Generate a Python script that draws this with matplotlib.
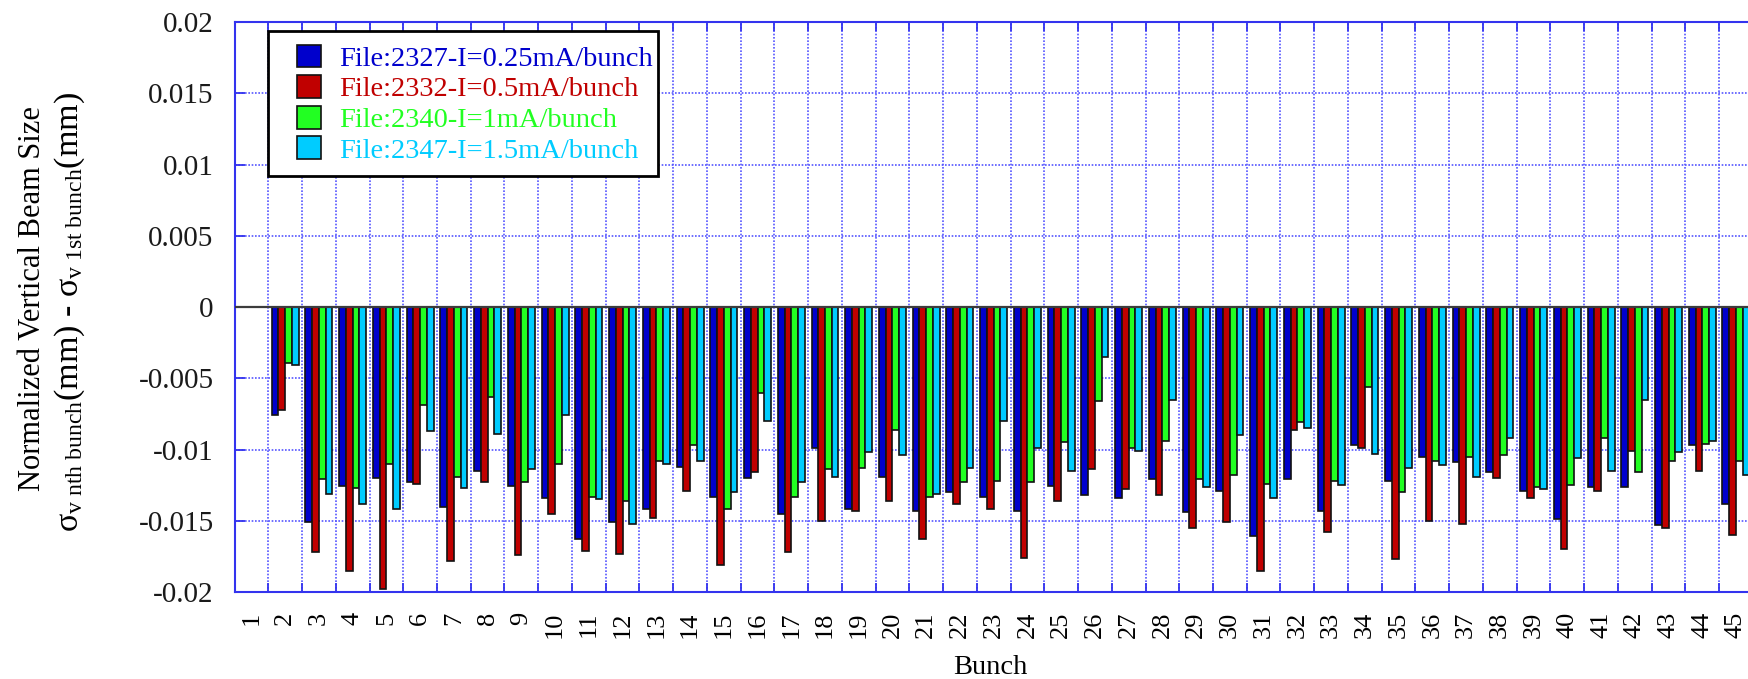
import numpy as np
import matplotlib
matplotlib.use('Agg')
import matplotlib.pyplot as plt
from matplotlib.patches import Rectangle

# Bunch numbers and the four measurements (difference to the 1st bunch, mm)
bunches = list(range(1, 46))

file_2327 = [0, -0.0076, -0.0151, -0.01255, -0.0120, -0.0123, -0.0140, -0.0115, -0.01255, -0.0134,
             -0.0163, -0.0151, -0.0142, -0.0112, -0.0133, -0.0120, -0.0145, -0.0099, -0.0142, -0.0119,
             -0.0143, -0.0130, -0.0133, -0.0143, -0.01255, -0.0132, -0.0134, -0.0121, -0.0144, -0.0129,
             -0.0161, -0.0121, -0.0143, -0.0097, -0.0122, -0.0105, -0.0109, -0.0116, -0.0129, -0.0149,
             -0.0126, -0.0126, -0.0153, -0.0097, -0.0138]
file_2332 = [0, -0.0072, -0.0172, -0.0185, -0.0198, -0.0124, -0.0178, -0.0123, -0.0174, -0.0145,
             -0.0171, -0.01735, -0.0148, -0.0129, -0.0181, -0.0116, -0.0172, -0.0150, -0.0143, -0.0136,
             -0.0163, -0.0138, -0.0142, -0.0176, -0.0136, -0.0114, -0.0128, -0.0132, -0.0155, -0.0151,
             -0.0185, -0.0086, -0.0158, -0.0099, -0.0177, -0.0150, -0.0152, -0.0120, -0.0134, -0.0170,
             -0.0129, -0.0101, -0.0155, -0.0115, -0.0160]
file_2340 = [0, -0.0039, -0.0121, -0.0127, -0.0110, -0.0069, -0.0119, -0.0063, -0.0123, -0.0110,
             -0.0133, -0.0136, -0.0108, -0.0097, -0.0142, -0.0060, -0.0133, -0.0114, -0.0113, -0.0086,
             -0.0133, -0.0123, -0.0122, -0.0123, -0.0095, -0.0066, -0.0099, -0.0094, -0.0121, -0.0118,
             -0.0124, -0.0081, -0.0122, -0.0056, -0.0130, -0.0108, -0.0105, -0.0104, -0.0126, -0.0125,
             -0.0092, -0.0116, -0.0108, -0.0096, -0.0108]
file_2347 = [0, -0.0041, -0.0131, -0.0138, -0.0142, -0.0087, -0.0127, -0.0089, -0.0114, -0.0076,
             -0.0135, -0.0152, -0.0110, -0.0108, -0.0130, -0.0080, -0.0123, -0.0119, -0.0102, -0.0104,
             -0.0131, -0.0113, -0.0080, -0.0099, -0.0115, -0.0035, -0.0101, -0.0065, -0.0126, -0.0090,
             -0.0134, -0.0085, -0.0125, -0.0103, -0.0113, -0.0111, -0.0119, -0.0092, -0.0128, -0.0106,
             -0.0115, -0.0065, -0.0102, -0.0094, -0.0118]

labels = ['File:2327-I=0.25mA/bunch', 'File:2332-I=0.5mA/bunch',
          'File:2340-I=1mA/bunch', 'File:2347-I=1.5mA/bunch']
colors = ['#0000cc', '#c00000', '#22ff22', '#00ccff']
y_ticks = [0.02, 0.015, 0.01, 0.005, 0, -0.005, -0.01, -0.015, -0.02]

plt.rcParams['font.family'] = 'Liberation Serif'
plt.rcParams['mathtext.fontset'] = 'custom'
plt.rcParams['mathtext.rm'] = 'Liberation Serif'
plt.rcParams['mathtext.it'] = 'Liberation Serif:italic'

fig = plt.figure(figsize=(17.49, 6.79), dpi=100)
# the plot runs past the right edge of the picture, like in the original screenshot
ax = fig.add_axes([0.1341, 0.1281, 0.8874, 0.8395])

x = np.array(bunches)
series = [file_2327, file_2332, file_2340, file_2347]
offsets = [-0.3, -0.1, 0.1, 0.3]
for vals, off, col, lab in zip(series, offsets, colors, labels):
    ax.bar(x + off, vals, width=0.2, color=col, edgecolor='#111111', linewidth=1.2,
           label=lab, zorder=2)

ax.axhline(0, color='#3c3c3c', linewidth=1.6, zorder=3)

ax.set_xlim(0.5, 46.5)
ax.set_ylim(-0.02, 0.02)

# labels sit on the bunch, ticks and grid lines between the bunches
ax.set_xticks(x)
ax.set_xticklabels([str(b) for b in bunches], rotation=90, fontsize=19)
ax.set_xticks(np.arange(1.5, 46.5, 1), minor=True)
ax.tick_params(axis='x', which='major', length=0, pad=14)
ax.tick_params(axis='x', which='minor', direction='in', length=6.5, width=1.3,
               color='#3333ee', top=True, bottom=True)

ax.set_yticks(y_ticks)
ax.set_yticklabels(['0.02', '0.015', '0.01', '0.005', '0', '-0.005', '-0.01', '-0.015', '-0.02'],
                   fontsize=21, color='#1a1a1a')
ax.tick_params(axis='y', which='major', direction='in', length=7, width=1.3,
               color='#3333ee', left=True, right=True, pad=15)

ax.set_axisbelow(True)
ax.grid(which='minor', axis='x', color='#5555ff', linestyle=(0, (1, 1)), linewidth=1.2)
ax.grid(which='major', axis='y', color='#5555ff', linestyle=(0, (1, 1)), linewidth=1.2)
ax.grid(which='major', axis='x', visible=False)

for s in ax.spines.values():
    s.set_color('#3333ee')
    s.set_linewidth(1.5)

fig.text(990 / 1749, 1 - 668 / 679, 'Bunch', fontsize=20.5, ha='center', va='center')
fig.text(33 / 1749, 1 - 299 / 679, 'Normalized Vertical Beam Size', fontsize=22,
         rotation=90, ha='center', va='center')
fig.text(70 / 1749, 1 - 312 / 679,
         r'$\mathrm{\sigma}_{\mathrm{v\ nth\ bunch}}$(mm) - $\mathrm{\sigma}_{\mathrm{v\ 1st\ bunch}}$(mm)',
         fontsize=24.5, rotation=90, ha='center', va='center')

# legend box drawn by hand so the left padding can be wider than the top one
frame = Rectangle((268 / 1749, 1 - 176 / 679), 390 / 1749, 145 / 679, transform=fig.transFigure,
                  facecolor='white', edgecolor='black', linewidth=2, zorder=4)
ax.add_artist(frame)
frame.set_clip_on(False)
leg = ax.legend(loc='upper left', bbox_to_anchor=(288 / 1749, 1 - 36 / 679),
                bbox_transform=fig.transFigure, fontsize=20.5, frameon=False,
                borderaxespad=0, handlelength=0.85, handleheight=0.85, handletextpad=0.65,
                labelspacing=0.12, borderpad=0.3)
leg.set_zorder(5)
for txt, col in zip(leg.get_texts(), colors):
    txt.set_color(col)

fig.savefig('out.png', dpi=100)
